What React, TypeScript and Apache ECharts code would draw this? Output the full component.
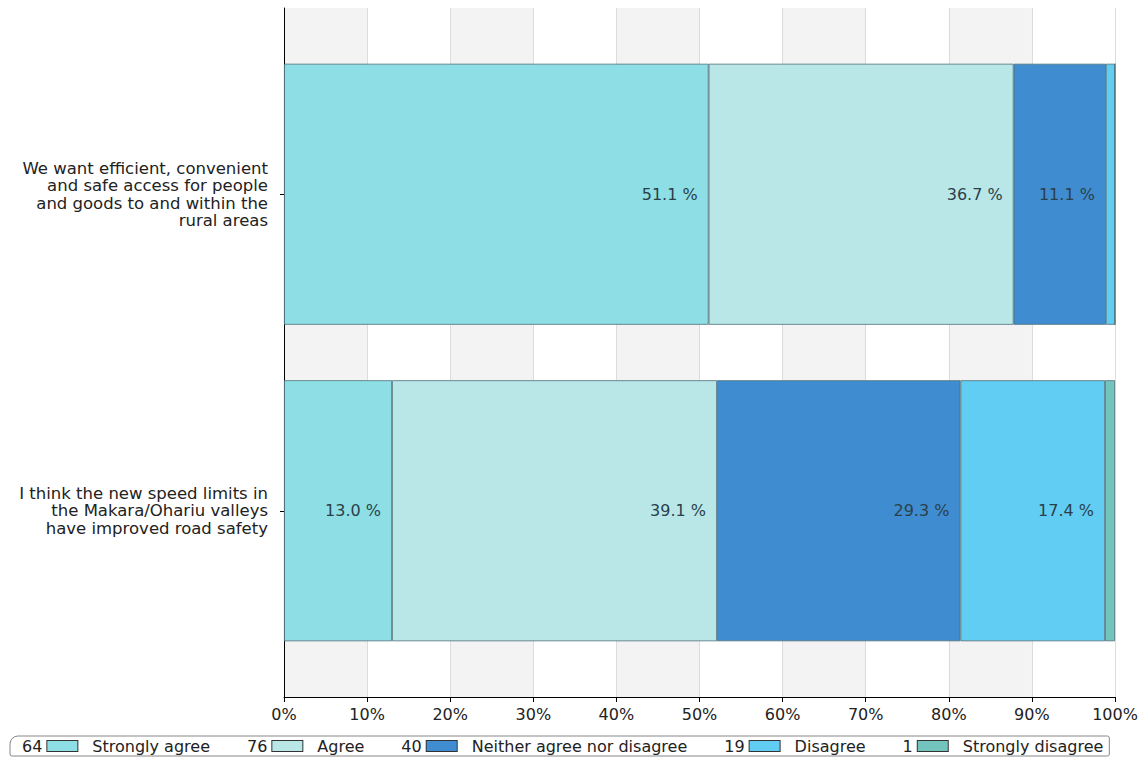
import React, { useEffect, useRef } from "react";
import * as echarts from "echarts";

const questions = [
  "We want efficient, convenient\nand safe access for people\nand goods to and within the\nrural areas",
  "I think the new speed limits in\nthe Makara/Ohariu valleys\nhave improved road safety",
];
const responseNames = ["Strongly agree", "Agree", "Neither agree nor disagree", "Disagree", "Strongly disagree"];
const responseCounts = [64, 76, 40, 19, 1];
const stronglyAgree = [51.1, 13.0];
const agree = [36.7, 39.1];
const neither = [11.1, 29.3];
const disagree = [1.1, 17.4];
const stronglyDisagree = [0, 1.2];
const xTicks = [0, 10, 20, 30, 40, 50, 60, 70, 80, 90, 100];

const colors = ["#8ddfe5", "#b9e7e8", "#3f8dd0", "#62cdf3", "#72c4bd"];
const FONT = "DejaVu Sans";

export default function App() {
  const ref = useRef<HTMLDivElement>(null);
  useEffect(() => {
    if (!ref.current) return;
    const chart = echarts.init(ref.current, null, { renderer: "svg" });
    const seriesValues = [stronglyAgree, agree, neither, disagree, stronglyDisagree];
    const rich: Record<string, any> = {
      c: { fontFamily: FONT, fontSize: 16, color: "#222", padding: [0, 5, 0, 0] },
      t: { fontFamily: FONT, fontSize: 16, color: "#222", padding: [0, 0, 0, 15] },
    };
    colors.forEach((c, i) => {
      rich["b" + i] = {
        width: 30,
        height: 10,
        backgroundColor: c,
        borderColor: "#333",
        borderWidth: 1,
      };
    });
    chart.setOption({
      animation: false,
      backgroundColor: "#ffffff",
      grid: [
        { left: 284, right: 29, top: 8, bottom: 65 },
        { left: 284, right: 29, top: 36, bottom: 93 },
      ],
      xAxis: [
        {
          type: "value",
          gridIndex: 0,
          min: xTicks[0],
          max: xTicks[xTicks.length - 1],
          interval: 10,
          axisLine: { show: true, lineStyle: { color: "#000", width: 1 } },
          axisTick: { show: true, length: 5, lineStyle: { color: "#000" } },
          axisLabel: {
            formatter: "{value}%",
            fontFamily: FONT,
            fontSize: 16,
            color: "#222",
            margin: 9,
          },
          splitLine: { show: true, lineStyle: { color: "#dcdcdc", width: 1 } },
          splitArea: { show: true, areaStyle: { color: ["#f3f3f3", "rgba(255,255,255,0)"] } },
        },
        {
          type: "value",
          gridIndex: 1,
          min: 0,
          max: 100,
          show: false,
        },
      ],
      yAxis: [
        {
          type: "value",
          gridIndex: 0,
          min: 0,
          max: 1,
          axisLine: { show: true, lineStyle: { color: "#000", width: 1 } },
          axisTick: { show: false },
          axisLabel: { show: false },
          splitLine: { show: false },
        },
        {
          type: "category",
          gridIndex: 1,
          inverse: true,
          data: questions,
          axisLine: { show: false },
          axisTick: { show: true, alignWithLabel: true, length: 4, lineStyle: { color: "#000" } },
          axisLabel: {
            fontFamily: FONT,
            fontSize: 16.5,
            color: "#222",
            lineHeight: 17.5,
            align: "right",
            margin: 16,
          },
        },
      ],
      legend: {
        data: responseNames,
        left: 10,
        top: 736,
        orient: "horizontal",
        itemWidth: 0,
        itemHeight: 0,
        itemGap: 31,
        padding: [2, 6, 2, 6],
        borderColor: "#888",
        borderWidth: 1,
        borderRadius: [8, 2, 2, 2],
        selectedMode: false,
        formatter: (name: string) => {
          const i = responseNames.indexOf(name);
          return `{c|${responseCounts[i]}}{b${i}|}{t|${name}}`;
        },
        textStyle: { rich },
      },
      series: responseNames.map((name, i) => ({
        name,
        type: "bar",
        stack: "total",
        xAxisIndex: 1,
        yAxisIndex: 1,
        barWidth: 261,
        data: seriesValues[i],
        itemStyle: { color: colors[i], borderColor: "#4d6f78", borderWidth: 0.8 },
        label: {
          show: true,
          position: "insideRight",
          distance: 11,
          fontFamily: FONT,
          fontSize: 16,
          color: "#2b3f4a",
          formatter: (p: any) => (p.value >= 5 ? `${p.value.toFixed(1)} %` : ""),
        },
      })),
    });
    return () => chart.dispose();
  }, []);
  return (
    <div
      ref={ref}
      style={{ position: "fixed", left: 0, top: 0, width: 1144, height: 762 }}
    />
  );
}
